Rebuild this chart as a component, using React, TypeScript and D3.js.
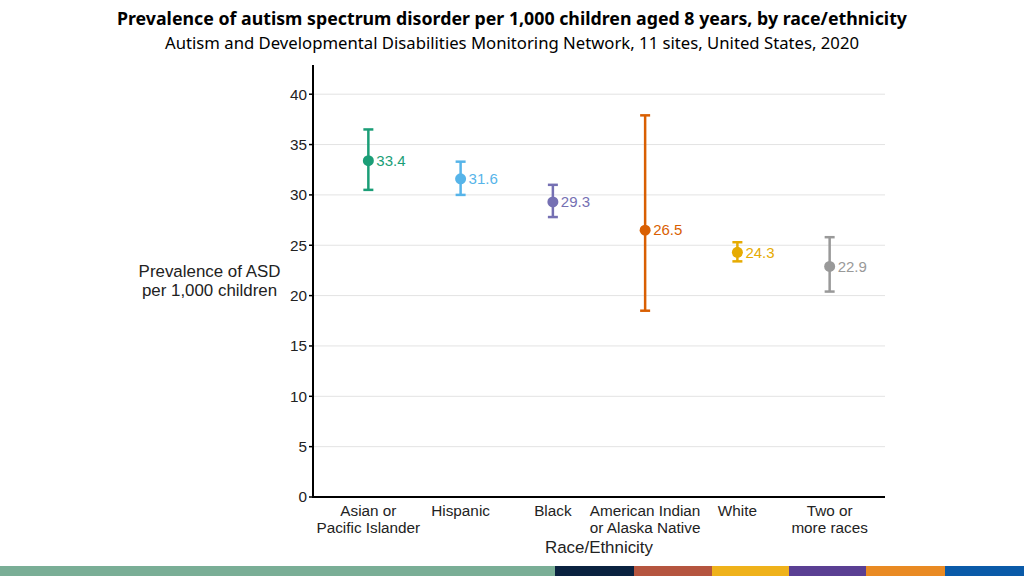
import React from "react";
import * as d3 from "d3";

const categories = ["Asian or|Pacific Islander", "Hispanic", "Black", "American Indian|or Alaska Native", "White", "Two or|more races"];
const estimates = [33.4, 31.6, 29.3, 26.5, 24.3, 22.9];
const lowerCI = [30.5, 30.0, 27.8, 18.5, 23.4, 20.4];
const upperCI = [36.5, 33.3, 31.0, 37.9, 25.3, 25.8];
const colors = ["#1b9e77", "#56b4e9", "#7570b3", "#d95f02", "#e6ab02", "#999999"];
const yTicks = [0, 5, 10, 15, 20, 25, 30, 35, 40];
const stripColors = ["#7aae96", "#0a2240", "#b5553f", "#efb21b", "#5a3f93", "#e98a23", "#0a5aa8"];
const stripWidths = [555, 79, 78, 77, 77, 79, 79];

export default function App() {
  const W = 1024, H = 576;
  const left = 313, right = 885, top = 65, bottom = 497;
  const x = d3.scalePoint<string>().domain(categories).range([left, right]).padding(0.6);
  const y = d3.scaleLinear().domain([0, 42.9]).range([bottom, top]);
  const font = "'Liberation Sans', Arial, sans-serif";
  let acc = 0;
  const strips = stripWidths.map((w, i) => {
    const r = { x: acc, w, c: stripColors[i] };
    acc += w;
    return r;
  });
  return (
    <svg width={W} height={H} style={{ position: "absolute", left: 0, top: 0, background: "#fff" }}>
      <rect width={W} height={H} fill="#fff" />
      <text x={512} y={25} textAnchor="middle" fontFamily="'Noto Sans', sans-serif" fontWeight="bold" fontSize={17}
        textLength={790} lengthAdjust="spacingAndGlyphs">
        Prevalence of autism spectrum disorder per 1,000 children aged 8 years, by race/ethnicity
      </text>
      <text x={512} y={49} textAnchor="middle" fontFamily="'Noto Sans', sans-serif" fontSize={15.5}
        textLength={694} lengthAdjust="spacingAndGlyphs">
        Autism and Developmental Disabilities Monitoring Network, 11 sites, United States, 2020
      </text>
      {yTicks.map((t) => (
        <g key={t}>
          {t > 0 && <line x1={left} x2={right} y1={y(t)} y2={y(t)} stroke="#e3e3e3" strokeWidth={1} />}
          <line x1={left - 4} x2={left} y1={y(t)} y2={y(t)} stroke="#000" strokeWidth={1.5} />
          <text x={left - 6} y={y(t)} dy="0.35em" textAnchor="end" fontFamily={font} fontSize={15.3} fill="#222">{t}</text>
        </g>
      ))}
      <line x1={left} x2={left} y1={top} y2={bottom + 1} stroke="#000" strokeWidth={2} />
      <line x1={left - 1} x2={right} y1={bottom} y2={bottom} stroke="#000" strokeWidth={2} />
      {categories.map((c, i) => {
        const cx = x(c)!;
        const lines = c.split("|");
        return (
          <g key={c}>
            <line x1={cx} x2={cx} y1={y(lowerCI[i])} y2={y(upperCI[i])} stroke={colors[i]} strokeWidth={2.5} />
            <line x1={cx - 5} x2={cx + 5} y1={y(lowerCI[i])} y2={y(lowerCI[i])} stroke={colors[i]} strokeWidth={2.5} />
            <line x1={cx - 5} x2={cx + 5} y1={y(upperCI[i])} y2={y(upperCI[i])} stroke={colors[i]} strokeWidth={2.5} />
            <circle cx={cx} cy={y(estimates[i])} r={5.5} fill={colors[i]} />
            <text x={cx + 8} y={y(estimates[i])} dy="0.35em" fontFamily={font} fontSize={15} fill={colors[i]}>
              {estimates[i].toFixed(1)}
            </text>
            {lines.map((l, j) => (
              <text key={j} x={cx} y={516 + j * 17} textAnchor="middle" fontFamily={font} fontSize={15.3} fill="#222">{l}</text>
            ))}
          </g>
        );
      })}
      <text x={599} y={553} textAnchor="middle" fontFamily={font} fontSize={16.9} fill="#222">Race/Ethnicity</text>
      <text x={209.5} y={277} textAnchor="middle" fontFamily={font} fontSize={16.9} fill="#222">Prevalence of ASD</text>
      <text x={209.5} y={296} textAnchor="middle" fontFamily={font} fontSize={16.9} fill="#222">per 1,000 children</text>
      {strips.map((s, i) => (
        <rect key={i} x={s.x} y={566} width={s.w} height={10} fill={s.c} />
      ))}
    </svg>
  );
}
